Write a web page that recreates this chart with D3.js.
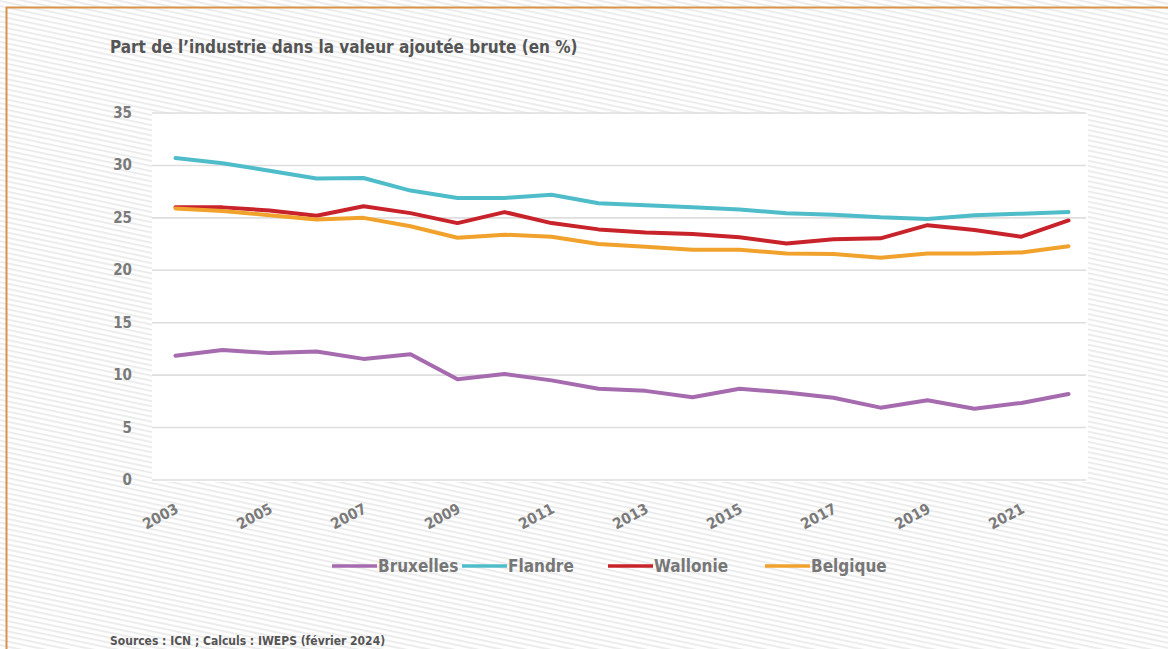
<!DOCTYPE html>
<html lang="fr">
<head>
<meta charset="utf-8">
<script src="https://cdn.jsdelivr.net/npm/d3@7"></script>
<style>
  html, body { margin: 0; padding: 0; background: #fff; }
  svg { display: block; }
  .lbl { font-family: "Liberation Sans Narrow", "DejaVu Sans Condensed", "Roboto", sans-serif; font-weight: bold; }
</style>
</head>
<body>
<svg id="chart" width="1168" height="649"></svg>
<script>
// Part de l'industrie dans la valeur ajoutée brute (%), 2003-2022
const years = d3.range(2003, 2023);
const bruxelles = [11.85, 12.4, 12.1, 12.25, 11.55, 12.0, 9.6, 10.1, 9.5, 8.7, 8.5, 7.9, 8.7, 8.35, 7.85, 6.9, 7.6, 6.8, 7.35, 8.2];
const flandre   = [30.7, 30.2, 29.5, 28.75, 28.8, 27.6, 26.9, 26.9, 27.2, 26.4, 26.2, 26.0, 25.8, 25.45, 25.3, 25.05, 24.9, 25.25, 25.4, 25.55];
const wallonie  = [26.0, 26.0, 25.7, 25.2, 26.1, 25.45, 24.5, 25.55, 24.5, 23.9, 23.6, 23.45, 23.15, 22.55, 22.95, 23.05, 24.3, 23.85, 23.2, 24.75];
const belgique  = [25.9, 25.65, 25.25, 24.85, 25.0, 24.2, 23.1, 23.4, 23.2, 22.5, 22.25, 21.95, 21.95, 21.6, 21.55, 21.2, 21.6, 21.6, 21.7, 22.3];
const seriesNames = ["Bruxelles", "Flandre", "Wallonie", "Belgique"];
const seriesColors = ["#a56bae", "#4fbdc9", "#c8232b", "#f1a22d"];
const yTicks = [0, 5, 10, 15, 20, 25, 30, 35];
const xTickYears = d3.range(2003, 2022, 2);

const seriesValues = [bruxelles, flandre, wallonie, belgique];
const series = seriesNames.map((name, i) => ({
  name, color: seriesColors[i],
  values: years.map((y, j) => ({ year: y, value: seriesValues[i][j] }))
}));

const svg = d3.select("#chart");
const W = 1168, H = 649;

// striped backdrop
const defs = svg.append("defs");
const pat = defs.append("pattern")
  .attr("id", "stripes")
  .attr("patternUnits", "userSpaceOnUse")
  .attr("width", 5).attr("height", 5)
  .attr("patternTransform", "rotate(12)");
pat.append("rect").attr("width", 5).attr("height", 5).attr("fill", "#ffffff");
pat.append("rect").attr("y", 0).attr("width", 5).attr("height", 1.8).attr("fill", "#ebebeb");

svg.append("rect").attr("width", W).attr("height", H).attr("fill", "url(#stripes)");

// frame lines (top and left)
svg.append("line").attr("x1", 6).attr("x2", W).attr("y1", 7.5).attr("y2", 7.5)
  .attr("stroke", "#d8944a").attr("stroke-width", 2);
svg.append("line").attr("x1", 6.5).attr("x2", 6.5).attr("y1", 7).attr("y2", H)
  .attr("stroke", "#d8944a").attr("stroke-width", 2);

// scales
const x = d3.scaleLinear().domain([2002.5, 2022.5]).range([152, 1092]);
const y = d3.scaleLinear().domain([0, 35]).range([480, 113]);

// plot panel
svg.append("rect")
  .attr("x", x(2002.5)).attr("y", y(35) + 1)
  .attr("width", 1088 - x(2002.5)).attr("height", y(0) - y(35) + 1)
  .attr("fill", "#ffffff");

// gridlines
svg.append("g").selectAll("line").data(yTicks).join("line")
  .attr("x1", x(2002.5)).attr("x2", 1086)
  .attr("y1", d => y(d)).attr("y2", d => y(d))
  .attr("stroke", "#dedede").attr("stroke-width", 1.6);

// y axis labels
svg.append("g").selectAll("text").data(yTicks).join("text")
  .attr("class", "lbl")
  .attr("x", 132).attr("y", d => y(d) + 5)
  .attr("text-anchor", "end")
  .attr("font-size", 15).attr("fill", "#7a7a7a")
  .text(d => d);

// x axis labels
svg.append("g").selectAll("text").data(xTickYears).join("text")
  .attr("class", "lbl")
  .attr("transform", d => `translate(${x(d) + 4},${512}) rotate(-28)`)
  .attr("text-anchor", "end")
  .attr("font-size", 15).attr("fill", "#7a7a7a")
  .text(d => d);

// lines
const line = d3.line().x(d => x(d.year)).y(d => y(d.value));
svg.append("g").selectAll("path").data(series).join("path")
  .attr("d", d => line(d.values))
  .attr("fill", "none")
  .attr("stroke", d => d.color)
  .attr("stroke-width", 4)
  .attr("stroke-linejoin", "round")
  .attr("stroke-linecap", "round");

// title
svg.append("text").attr("class", "lbl")
  .attr("x", 110).attr("y", 53)
  .attr("font-size", 17).attr("fill", "#555555")
  .text("Part de l\u2019industrie dans la valeur ajoutée brute (en %)");

// legend
const legendX = [332, 462, 608, 765];
const lg = svg.append("g").selectAll("g").data(series).join("g")
  .attr("transform", (d, i) => `translate(${legendX[i]},566)`);
lg.append("line").attr("x1", 0).attr("x2", 45).attr("y1", 0).attr("y2", 0)
  .attr("stroke", d => d.color).attr("stroke-width", 3.5);
lg.append("text").attr("class", "lbl")
  .attr("x", 46).attr("y", 6)
  .attr("font-size", 17).attr("fill", "#777777")
  .text(d => d.name);

// source
svg.append("text").attr("class", "lbl")
  .attr("x", 110).attr("y", 645)
  .attr("font-size", 12).attr("fill", "#555555")
  .text("Sources : ICN ; Calculs : IWEPS (février 2024)");
</script>
</body>
</html>
